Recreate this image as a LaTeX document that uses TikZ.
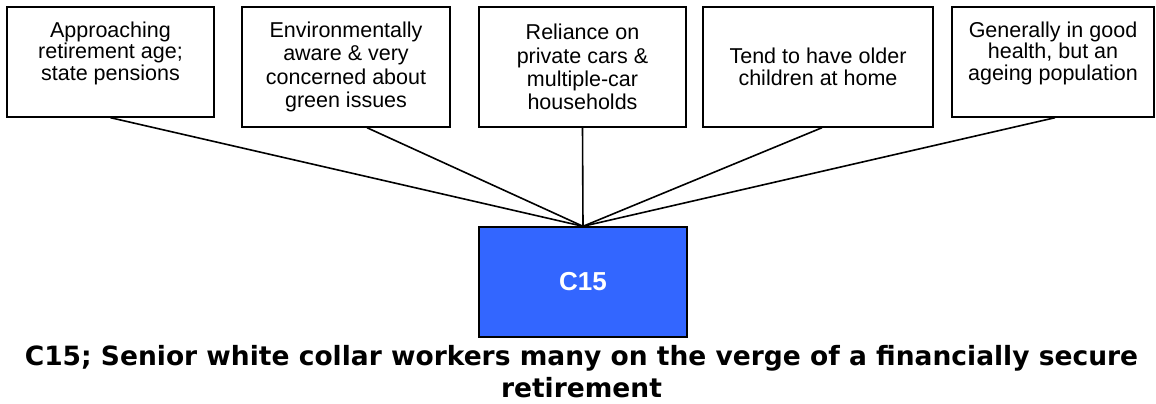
\documentclass[tikz,border=0pt]{standalone}
\usepackage{fontspec}
\setmainfont{Liberation Sans}
\newfontfamily\captionfont{DejaVu Sans}
\usetikzlibrary{positioning}
\definecolor{segblue}{HTML}{3366FF}
\tikzset{trait/.style = {draw, line width=1.4pt, align=center,
                         font=\fontsize{21.5}{21.7}\selectfont, inner sep=0}}
\tikzset{tall/.style = {font=\fontsize{21.5}{23.3}\selectfont}}
\tikzset{cluster/.style = {draw, line width=1.4pt, fill=segblue, text=white,
                           font=\fontsize{26}{30}\selectfont\bfseries,
                           minimum width=208pt, minimum height=110pt}}
\tikzset{link/.style = {line width=1.6pt}}

\begin{document}
\begin{tikzpicture}[x=1pt, y=-1pt]
    \useasboundingbox (0, 0) rectangle (1156, 404);

    \node [trait, minimum width=207pt, minimum height=110pt, text depth=22pt] (pension) at (110.5, 62) {Approaching\\retirement age;\\state pensions};
    \node [trait, tall, minimum width=208pt, minimum height=120pt] (green) at (346, 67) {Environmentally\\aware \& very\\concerned about\\green issues};
    \node [trait, tall, minimum width=207pt, minimum height=120pt] (cars) at (582.5, 67) {Reliance on\\private cars \&\\multiple-car\\households};
    \node [trait, minimum width=230pt, minimum height=120pt] (children) at (818, 67) {Tend to have older\\children at home};
    \node [trait, minimum width=202pt, minimum height=110pt, text depth=22pt] (health) at (1053, 62) {Generally in good\\health, but an\\ageing population};

    \node [cluster] (c15) at (583, 282) {C15};
    \node [align=center, font=\fontsize{26.5}{32}\selectfont\captionfont\bfseries] (caption) at (581.5, 372) {C15; Senior white collar workers many on the verge of a financially secure\\retirement};

    \draw [link] (pension.south) -- (c15.north);
    \draw [link] ([xshift=21pt]green.south) -- (c15.north);
    \draw [link] (cars.south) -- (c15.north);
    \draw [link] ([xshift=4pt]children.south) -- (c15.north);
    \draw [link] ([xshift=2pt]health.south) -- (c15.north);
  \end{tikzpicture}
\end{document}
